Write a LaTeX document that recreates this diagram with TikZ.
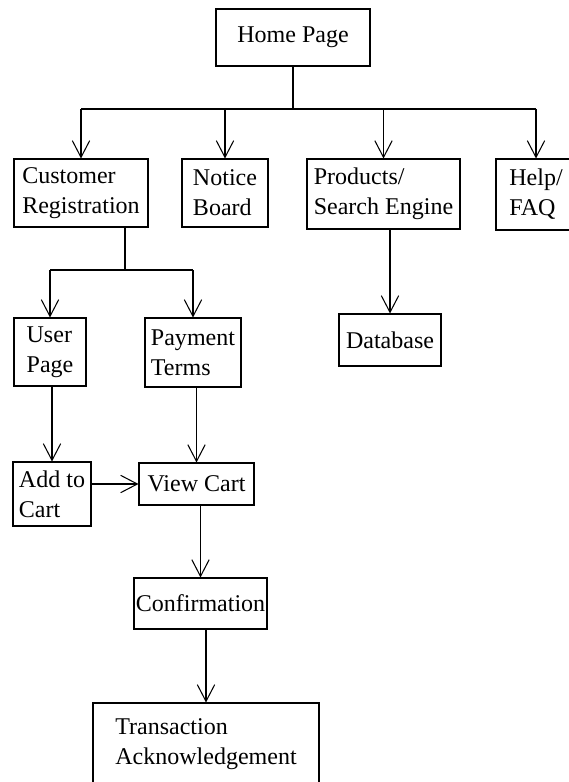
\documentclass[tikz,border=0pt]{standalone}
\usepackage{fontspec}
\setmainfont{Liberation Serif}
\usetikzlibrary{arrows.meta}

\begin{document}
\begin{tikzpicture}[x=0.3mm,y=-0.3mm,line width=0.9pt,
  >={Straight Barb[length=5mm,width=5.2mm,line width=0.9pt]}]
\useasboundingbox (0,0) rectangle (568,782);
\tikzstyle{every node}=[draw,shape=rectangle,align=left,inner sep=0pt,
  font=\fontsize{20.5}{25.5}\selectfont];
\node[minimum width=46.2mm,minimum height=17.1mm] (home) at (293,37.5) {Home Page};
\node[minimum width=40.2mm,minimum height=20.4mm] (reg) at (81,193) {Customer\\Registration};
\node[minimum width=25.8mm,minimum height=20.4mm] (notice) at (225,193) {Notice\\Board};
\node[minimum width=45.9mm,minimum height=21mm] (prod) at (383.5,194) {Products/\\Search Engine};
\node[minimum width=24mm,minimum height=21.3mm] (help) at (536,194.5) {Help/\\FAQ};
\node[minimum width=21.6mm,minimum height=20.4mm] (user) at (50,352) {User\\Page};
\node[minimum width=28.8mm,minimum height=20.7mm] (pay) at (193,352.5) {Payment\\Terms};
\node[minimum width=30.6mm,minimum height=15.6mm] (db) at (390,340) {Database};
\node[minimum width=23.4mm,minimum height=19.2mm] (add) at (52,494) {Add to\\Cart};
\node[minimum width=34.5mm,minimum height=12.6mm] (view) at (196.5,484) {View Cart};
\node[minimum width=39.9mm,minimum height=15.3mm] (conf) at (200.5,603.5) {Confirmation};
\node[minimum width=67.8mm,minimum height=24.6mm] (trans) at (206,744) {Transaction\\Acknowledgement};
\tikzstyle{every node}=[];
\coordinate (hbus) at (0,109);
\coordinate (rsplit) at (125,270);
% top level
\draw (home) -- (home |- hbus);
\draw (reg.north |- hbus) -- (help.north |- hbus);
\draw [->] (reg.north |- hbus) -- (reg);
\draw [->] (notice.north |- hbus) -- (notice);
\draw [->] (prod.north |- hbus) -- (prod);
\draw [->] (help.north |- hbus) -- (help);
% registration branch
\draw (rsplit |- reg.south) -- (rsplit);
\draw (user.north |- rsplit) -- (pay.north |- rsplit);
\draw [->] (user.north |- rsplit) -- (user);
\draw [->] (pay.north |- rsplit) -- (pay);
\draw [->] (db.north |- prod.south) -- (db);
% cart
\draw [->] (add.north |- user.south) -- (add);
\draw [->] (view.north |- pay.south) -- (view);
\draw [->] (add.east |- view) -- (view.west);
\draw [->] (conf.north |- view.south) -- (conf);
\draw [->] (trans.north |- conf.south) -- (trans);
\end{tikzpicture}
\end{document}
